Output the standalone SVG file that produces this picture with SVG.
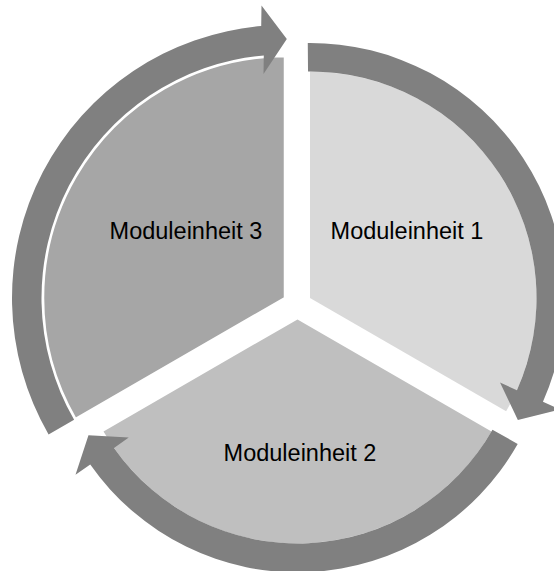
<svg xmlns="http://www.w3.org/2000/svg" width="554" height="571" viewBox="0 0 554 571">
<style>
.lbl{font-family:"Liberation Sans",Arial,sans-serif;font-size:23.5px;fill:#000;text-anchor:middle}
.arrow{fill:#808080;stroke:none}
</style>
<rect width="554" height="571" fill="#ffffff"/>
<g id="node-1">
<path d="M310,298 L310,71.5 A226.5,226.5 0 0 1 506.15,411.25 Z" fill="#d9d9d9"/>
<text class="lbl" x="407" y="238.5">Moduleinheit 1</text>
</g>
<g id="node-2">
<path d="M297.5,319.4 L491.49,431.4 A224,224 0 0 1 103.51,431.4 Z" fill="#bfbfbf"/>
<text class="lbl" x="300" y="461">Moduleinheit 2</text>
</g>
<g id="node-3">
<path d="M285,298 L75.42,419 A242,242 0 0 1 285,56 Z" fill="#a6a6a6" stroke="#ffffff" stroke-width="2.5"/>
<text class="lbl" x="186" y="238.5">Moduleinheit 3</text>
</g>
<g id="connectors">
<path class="arrow" d="M307.77,43.01 A255,255 0 0 1 542.95,401.72 L560.31,409.45 L517.87,419.95 L500.02,382.60 L516.92,390.13 A226.5,226.5 0 0 0 308.02,71.51 Z"/>
<path class="arrow" d="M517.70,443.98 A253,253 0 0 1 90.25,464.51 L75.51,474.84 L88.47,435.27 L128.75,437.56 L114.01,447.88 A224,224 0 0 0 492.46,429.70 Z"/>
<path class="arrow" d="M48.57,434.5 A273,273 0 0 1 261.21,26.04 L261.5,5.5 L286.81,39.01 L263.5,74 L263.78,55.43 A243.5,243.5 0 0 0 74.12,419.75 Z"/>
</g>
</svg>
